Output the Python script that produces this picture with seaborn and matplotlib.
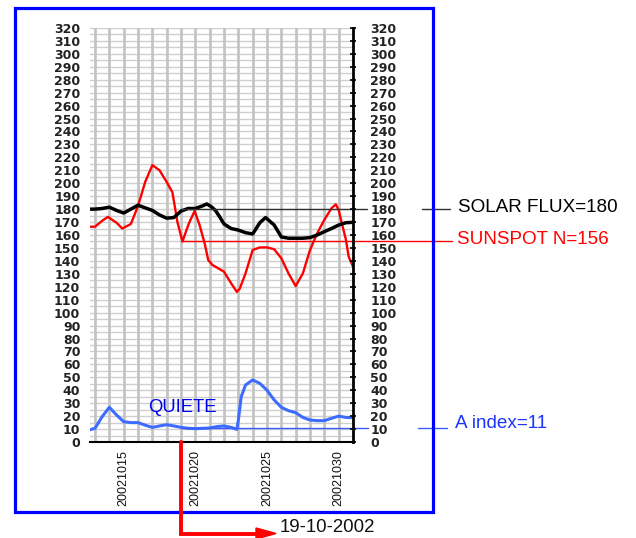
import numpy as np
import pandas as pd
import matplotlib
matplotlib.use('Agg')
import matplotlib.pyplot as plt
import seaborn as sns
from matplotlib.lines import Line2D
from matplotlib.patches import Polygon, Rectangle
import matplotlib.transforms as mtransforms

# solar flux (black)
sf_days = [12.65, 13, 13.5, 14, 14.5, 15, 15.5, 16, 16.5, 17, 17.5, 18, 18.5, 19, 19.5, 20, 20.5, 20.8,
           21.1, 21.4, 21.7, 22, 22.5, 23, 23.5, 24, 24.5, 24.9, 25.5, 26, 26.5, 27, 27.5, 28, 28.5, 29,
           29.5, 30, 30.5, 31]
sf_vals = [180, 180, 180.5, 181.5, 179, 177, 180, 183, 181, 179, 175.5, 173, 173.5, 178.5, 180.5, 180.5,
           182.5, 184, 182, 179, 174, 168.5, 165, 163.8, 161.8, 160.8, 169.5, 173.5, 167.7, 158.5, 157.5,
           157.5, 157.5, 158, 160, 162.6, 165, 167.7, 169.5, 169.8]

# sunspot number (red)
ss_days = [12.65, 13, 13.5, 13.9, 14.5, 14.9, 15.5, 16, 16.5, 17, 17.5, 18, 18.4, 18.75, 19.1, 19.55,
           19.95, 20.3, 20.65, 20.9, 21.2, 21.4, 22, 22.5, 22.9, 23.1, 23.5, 24, 24.5, 25, 25.5, 26, 26.5,
           27, 27.5, 28, 28.5, 29, 29.5, 29.8, 30, 30.2, 30.5, 30.7, 31]
ss_vals = [166.4, 166.4, 171, 174, 169.5, 165, 168.5, 182.4, 201, 214, 210, 201, 193, 170, 155, 169,
           178.6, 167.5, 153.5, 140.6, 136.8, 135.5, 131.6, 122.6, 116, 118.6, 130.3, 148.4, 150.4, 150.4,
           149, 142, 130.3, 120.5, 130.3, 148.4, 161.3, 171.7, 180.7, 183.7, 179.3, 170, 156.7, 143.2, 135.5]

# A index (blue)
ai_days = [12.65, 13, 13.5, 14, 14.5, 15, 15.5, 16, 16.5, 17, 17.5, 18, 18.5, 19, 19.5, 20, 20.5, 21,
           21.5, 22, 22.5, 22.9, 23, 23.2, 23.5, 24, 24.5, 25, 25.5, 26, 26.5, 27, 27.5, 28, 28.5, 29,
           29.5, 30, 30.5, 31]
ai_vals = [9.5, 10.6, 19.6, 26.8, 20.9, 15.7, 15, 15, 13, 11.3, 12.4, 13.4, 12.4, 11.3, 10.6, 10.3, 10.6,
           10.8, 11.9, 12.4, 11.3, 9.8, 17, 35, 44, 48, 45.3, 40, 32.5, 26.8, 24.2, 22.7, 19, 17, 16.5,
           16.5, 18.3, 20, 19, 18.8]

day_ticks = list(range(13, 32))
date_labels = {15: '20021015', 20: '20021020', 25: '20021025', 30: '20021030'}
y_ticks = list(range(0, 330, 10))

ref_day = 19
solar_flux = 180
sunspot_level = 155
a_index = 11

sns.set_style('white')
plt.rcParams['font.family'] = ['Liberation Sans', 'DejaVu Sans']

fig = plt.figure(figsize=(6.36, 5.38), dpi=100)
W, H = 636, 538
ax = fig.add_axes([90 / W, 1 - 442 / H, 263 / W, 414 / H])
x0, x1 = 12.65, 31

sns.lineplot(x=ss_days, y=ss_vals, ax=ax, color='#ff0000', lw=1.7, zorder=4)
sns.lineplot(x=sf_days, y=sf_vals, ax=ax, color='#000000', lw=2.5, zorder=5)
sns.lineplot(x=ai_days, y=ai_vals, ax=ax, color='#3d6cff', lw=2.2, zorder=5)

ax.set_xlim(x0, x1)
ax.set_ylim(0, 320)
ax.set_xticks(day_ticks)
ax.set_xticklabels([date_labels.get(d, '') for d in day_ticks], rotation=90,
                   fontsize=9, color='#111111')
ax.set_yticks(y_ticks)
ax.set_yticks(range(5, 320, 10), minor=True)
ax.set_yticklabels([str(v) for v in y_ticks], fontsize=9, fontweight='bold',
                   family='DejaVu Sans', color='#222222')
ax.tick_params(axis='y', which='both', left=False, length=0, pad=7)
ax.tick_params(axis='x', direction='inout', length=5, width=1.3, pad=3, color='black')
ax.set_xlabel('')
ax.set_ylabel('')

ax.grid(False)
ax.yaxis.grid(True, which='both', color='#cfcfcf', lw=1.0, zorder=0)
for d in day_ticks[:-1]:
    ax.axvline(d, color='#c2c2c2', lw=1.9, zorder=1)

for s in ['left', 'top']:
    ax.spines[s].set_visible(False)
ax.spines['bottom'].set_color('black')
ax.spines['bottom'].set_linewidth(1.5)
ax.spines['right'].set_visible(False)

ax2 = ax.twinx()
ax2.set_ylim(0, 320)
ax2.set_yticks(y_ticks)
ax2.set_yticklabels([str(v) for v in y_ticks], fontsize=9, fontweight='bold',
                    family='DejaVu Sans', color='#222222')
ax2.tick_params(axis='y', direction='inout', length=5, width=1.2, pad=10, color='black')
for s in ['left', 'top', 'bottom']:
    ax2.spines[s].set_visible(False)
ax2.spines['right'].set_color('black')
ax2.spines['right'].set_linewidth(2.0)

# reference lines from the 19th
blend = mtransforms.blended_transform_factory(ax.transAxes, ax.transData)
start = (ref_day - x0) / (x1 - x0)
refs = [
    (solar_flux, '#303030', [(start, 1.053), (1.262, 1.369)]),
    (sunspot_level, '#ff0000', [(start, 1.376)]),
    (a_index, '#3d5cff', [(start, 1.057), (1.247, 1.357)]),
]
for yv, col, segs in refs:
    for a, b in segs:
        ax.add_line(Line2D([a, b], [yv, yv], transform=blend, color=col, lw=1.0,
                           clip_on=False, zorder=6))

fig.text(458 / W, 1 - 207 / H, 'SOLAR FLUX=180', fontsize=13.6, color='black', va='center')
fig.text(457 / W, 1 - 240 / H, 'SUNSPOT N=156', fontsize=13.6, color='#ff0000', va='center')
fig.text(455 / W, 1 - 424 / H, 'A index=11', fontsize=13.6, color='#1a33ff', va='center')
ax.text(19.12, 26.5, 'QUIETE', fontsize=13.3, color='#0000ee', ha='center', va='center', zorder=7)

# red marker arrow at the 19th
px, py = ax.transData.transform((ref_day, 0))
yb = 4.5
fig.add_artist(Line2D([px, px, 262], [py, yb, yb], transform=None, color='#ff0000', lw=2.8,
                      solid_joinstyle='miter'))
fig.add_artist(Polygon([[256, yb + 5.5], [276, yb], [256, yb - 5.5]], closed=True, transform=None,
                       color='#ff0000'))
fig.text(280 / W, 1 - 528 / H, '19-10-2002', fontsize=13.4, color='#111111', va='center')

fig.add_artist(Rectangle((15 / W, 1 - 512 / H), 418 / W, 504 / H, transform=fig.transFigure,
                         fill=False, ec='#0000ff', lw=2.3))

fig.savefig('out.png', dpi=100)
